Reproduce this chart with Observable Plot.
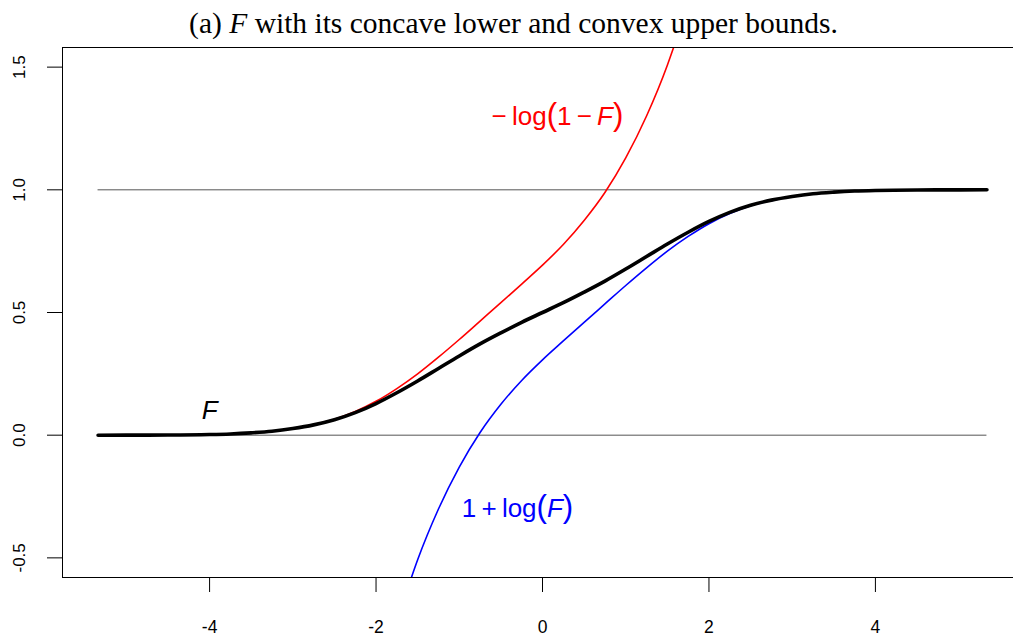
<!DOCTYPE html>
<html>
<head>
<meta charset="utf-8">
<script src="https://cdn.jsdelivr.net/npm/d3@7"></script>
<script src="https://cdn.jsdelivr.net/npm/@observablehq/plot@0.6"></script>
<style>
  html, body { margin: 0; padding: 0; background: #fff; overflow: hidden; }
  #chart svg { display: block; }
</style>
</head>
<body>
<div id="chart"></div>
<script>
// ---- data ----
const fX = [-5.34,-5,-4.5,-4,-3.75,-3.5,-3.25,-3,-2.75,-2.5,-2.25,-2,-1.75,-1.5,-1.25,-1,-0.75,-0.5,-0.25,0,
            0.25,0.5,0.75,1,1.25,1.5,1.75,2,2.25,2.5,2.75,3,3.25,3.5,3.75,4,4.5,5,5.34];
const fY = [0,0.0001,0.0005,0.0025,0.005,0.0095,0.016,0.027,0.042,0.063,0.092,0.129,0.173,0.221,0.272,0.323,0.372,0.417,0.46,0.5,
            0.54,0.583,0.628,0.677,0.728,0.779,0.827,0.871,0.908,0.937,0.958,0.973,0.984,0.9905,0.995,0.9975,0.9995,0.9999,1];

// red: -log(1-F), convex upper bound
const upX = [-5.34,-5,-4.5,-4,-3.75,-3.5,-3.25,-3,-2.75,-2.5,-2.25,-2,-1.75,-1.5,-1.25,-1,-0.75,-0.5,-0.25,0,
             0.25,0.5,0.75,1,1.25,1.5,1.575];
const upY = [0,0.0001,0.0005,0.0025,0.005,0.0095,0.016,0.027,0.043,0.065,0.0965,0.138,0.19,0.25,0.318,0.39,0.465,0.54,0.616,0.693,
             0.777,0.875,0.989,1.13,1.301,1.508,1.58];

// blue: 1+log(F), concave lower bound
const loX = [-1.575,-1.5,-1.25,-1,-0.75,-0.5,-0.25,0,0.25,0.5,0.75,1,1.25,1.5,1.75,2,2.25,2.5,2.75,3,3.25,3.5,3.75,4,4.5,5,5.34];
const loY = [-0.58,-0.508,-0.301,-0.13,0.011,0.126,0.223,0.307,0.384,0.46,0.535,0.61,0.682,0.75,0.81,0.862,0.903,0.935,0.956,0.9725,0.9838,0.9905,0.995,0.9975,0.9995,0.9999,1];

const hLevels = [0, 1];
const xTicks = [-4, -2, 0, 2, 4];
const xTickLabels = ["-4", "-2", "0", "2", "4"];
const yTicks = [-0.5, 0, 0.5, 1, 1.5];
const yTickLabels = ["-0.5", "0.0", "0.5", "1.0", "1.5"];

const titleText = "(a) F with its concave lower and convex upper bounds.";
const annotations = [
  {key: "F", x: -4, y: 0.1, color: "black"},
  {key: "-log(1-F)", x: 0.18, y: 1.3, color: "red"},
  {key: "1+log(F)", x: -0.3, y: -0.3, color: "blue"}
];

// ---- tables ----
const fData = fX.map((x, i) => ({x, y: fY[i]}));
const upData = upX.map((x, i) => ({x, y: upY[i]}));
const loData = loX.map((x, i) => ({x, y: loY[i]}));
const x0 = d3.min(fX), x1 = d3.max(fX);
const pad = (x1 - x0) * 0.04;

const sans = "'Liberation Sans', Arial, Helvetica, sans-serif";
const serif = "'Liberation Serif', 'Times New Roman', Times, serif";

const svg = Plot.plot({
  width: 1013,
  height: 642,
  marginLeft: 62,
  marginRight: -9,
  marginTop: 47,
  marginBottom: 65,
  style: {background: "white", fontFamily: sans, color: "black"},
  x: {domain: [x0 - pad, x1 + pad]},
  y: {domain: [-0.58, 1.58]},
  marks: [
    Plot.ruleY(hLevels, {x1: x0, x2: x1, stroke: "#555", strokeWidth: 1}),
    Plot.line(upData, {x: "x", y: "y", stroke: "#ff0000", strokeWidth: 1.6, curve: "monotone-x", clip: true}),
    Plot.line(loData, {x: "x", y: "y", stroke: "#0000ff", strokeWidth: 1.6, curve: "monotone-x", clip: true}),
    Plot.line(fData, {x: "x", y: "y", stroke: "black", strokeWidth: 3.6, curve: "monotone-x", clip: true}),
    Plot.frame({stroke: "black", strokeWidth: 1}),
    Plot.axisX({ticks: xTicks, tickSize: 15, tickPadding: 28, fontSize: 17.5, label: null,
      tickFormat: d => xTickLabels[xTicks.indexOf(d)]}),
    Plot.axisY({ticks: yTicks, tickSize: 15, label: null, tickFormat: () => ""}),
    Plot.axisY({ticks: yTicks, tickSize: 0, tickPadding: 43, fontSize: 17, rotate: -90, textAnchor: "middle", label: null,
      tickFormat: d => yTickLabels[yTicks.indexOf(d)]}),
    Plot.text(annotations, {x: "x", y: "y", text: "key", fill: "color", fontSize: 26, lineAnchor: "middle", textAnchor: "middle"}),
    Plot.text([titleText], {frameAnchor: "top", dx: -29, dy: -24, lineAnchor: "middle", fontSize: 29.5, fontFamily: serif, fill: "black"})
  ]
});

// rich text (italic F, larger parentheses)
const P = "1.2em";
const rich = {
  [titleText]: [["(a) "], ["F", "italic"], [" with its concave lower and convex upper bounds."]],
  "F": [["F", "italic"]],
  "-log(1-F)": [["\u2212\u2009log"], ["(", null, P], ["1\u2009\u2212\u2009"], ["F", "italic"], [")", null, P]],
  "1+log(F)": [["1\u2009+\u2009log"], ["(", null, P], ["F", "italic"], [")", null, P]]
};
d3.select(svg).selectAll("text").each(function() {
  const parts = rich[this.textContent];
  if (!parts) return;
  const sel = d3.select(this);
  sel.text(null);
  parts.forEach(([s, st, sz]) => {
    const t = sel.append("tspan").text(s);
    if (st === "italic") t.attr("font-style", "italic");
    if (sz) t.attr("font-size", sz).attr("font-weight", 300);
  });
});

document.getElementById("chart").appendChild(svg);
</script>
</body>
</html>
